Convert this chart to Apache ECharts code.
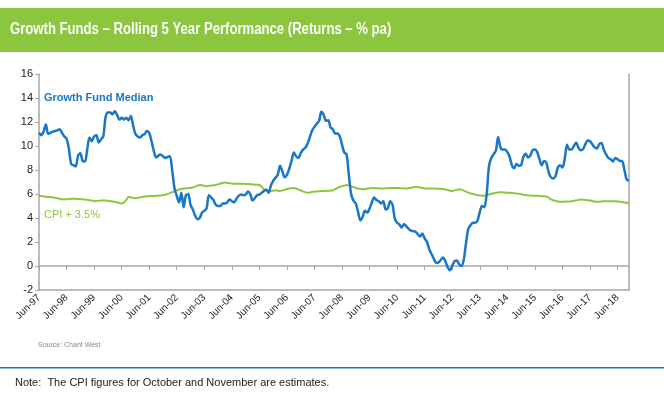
<!DOCTYPE html>
<html><head><meta charset="utf-8">
<script src="https://cdn.jsdelivr.net/npm/echarts@6/dist/echarts.min.js"></script>
<style>html,body{margin:0;padding:0;background:#fff}#c{width:664px;height:393px}</style>
</head><body><div id="c"></div>
<script>
// ---- data ----
const titleText = 'Growth Funds \u2013 Rolling 5 Year Performance (Returns \u2013 % pa)';
const seriesNames = ['Growth Fund Median', 'CPI + 3.5%'];
const startYear = 1997, startMonthIdx = 5, monthCount = 258; // Jun-97 .. Nov-18
const monthNames = ['Jan','Feb','Mar','Apr','May','Jun','Jul','Aug','Sep','Oct','Nov','Dec'];
const yTicks = [-2, 0, 2, 4, 6, 8, 10, 12, 14, 16];

const growthMedian = [
  11.1, 10.9, 11.2, 11.8, 11.0, 11.1, 11.2, 11.25, 11.3, 11.4, 11.1, 10.8,
  10.6, 9.8, 8.5, 8.4, 8.3, 9.2, 9.4, 8.75, 8.7, 9.7, 10.7, 10.4,
  10.8, 10.9, 10.3, 10.55, 10.8, 12.4, 12.8, 12.8, 12.65, 12.9, 12.6, 12.2,
  12.35, 12.2, 12.35, 12.15, 12.5, 11.7, 11.0, 10.8, 10.7, 10.9, 11.0, 11.25,
  11.1, 10.4, 9.6, 9.05, 9.2, 9.3, 9.15, 9.0, 9.1, 9.15, 8.0, 6.5,
  5.85, 5.3, 6.1, 4.9, 5.9, 6.0, 5.1, 4.7, 4.2, 3.9, 4.0, 4.45,
  4.6, 4.8, 5.9, 5.7, 5.5, 5.1, 5.0, 5.0, 5.2, 5.2, 5.3, 5.55,
  5.4, 5.3, 5.6, 5.85, 5.95, 5.9, 5.95, 6.2, 6.0, 5.45, 5.65, 5.9,
  5.95, 6.1, 6.25, 6.35, 6.1, 6.7, 7.1, 7.35, 7.6, 8.35, 7.9, 7.4,
  7.6, 8.1, 8.75, 9.45, 9.15, 9.0, 9.4, 9.7, 9.85, 10.2, 10.75, 11.3,
  11.6, 11.85, 12.1, 12.85, 12.6, 12.1, 12.15, 11.55, 11.4, 11.05, 11.05, 10.8,
  10.1, 9.45, 9.3, 7.5, 5.95, 5.45, 5.2, 4.5, 3.8, 4.1, 4.6, 4.45,
  4.8, 5.3, 5.7, 5.5, 5.4, 5.2, 5.4, 4.7, 4.85, 5.4, 5.1, 3.95,
  3.6, 3.45, 3.2, 3.5, 3.3, 3.1, 2.95, 2.9, 2.85, 2.65, 2.45, 2.7,
  2.3, 2.0, 1.4, 1.0, 0.6, 0.25, 0.3, 0.5, 0.7, 0.4, -0.1, -0.35,
  0.0, 0.4, 0.45, 0.15, 0.0, 0.5, 1.9, 3.1, 3.4, 3.6, 3.6, 3.8,
  4.5, 5.0, 4.9, 6.0, 8.3, 9.0, 9.3, 9.6, 10.75, 9.9, 9.7, 9.7,
  9.5, 9.1, 8.4, 8.15, 8.5, 8.35, 8.4, 9.1, 9.35, 9.05, 9.2, 9.65,
  9.7, 9.5, 8.9, 8.4, 8.75, 8.6, 7.8, 7.4, 7.3, 7.5, 8.2, 8.4,
  8.2, 8.9, 10.1, 9.7, 9.7, 10.0, 10.3, 9.85, 9.65, 9.75, 10.15, 10.45,
  10.4, 10.15, 9.9, 9.8, 10.15, 10.25, 9.7, 9.3, 9.0, 8.9, 8.7, 9.0,
  8.9, 8.75, 8.75, 8.0, 7.2, 7.1
];

const cpiPlus = [
  5.85, 5.83, 5.8, 5.78, 5.76, 5.75, 5.72, 5.68, 5.65, 5.6, 5.55, 5.56,
  5.57, 5.58, 5.6, 5.6, 5.6, 5.58, 5.57, 5.56, 5.55, 5.52, 5.48, 5.45,
  5.4, 5.42, 5.44, 5.45, 5.45, 5.45, 5.43, 5.4, 5.38, 5.35, 5.3, 5.25,
  5.2, 5.3, 5.5, 5.75, 5.72, 5.68, 5.65, 5.68, 5.72, 5.76, 5.8, 5.8,
  5.82, 5.83, 5.84, 5.85, 5.87, 5.88, 5.9, 5.95, 6.0, 6.07, 6.15, 6.22,
  6.3, 6.37, 6.42, 6.45, 6.47, 6.49, 6.5, 6.55, 6.62, 6.7, 6.75, 6.72,
  6.68, 6.65, 6.67, 6.7, 6.72, 6.75, 6.8, 6.87, 6.92, 6.95, 6.92, 6.9,
  6.87, 6.85, 6.85, 6.85, 6.85, 6.85, 6.84, 6.83, 6.82, 6.8, 6.78, 6.77,
  6.75, 6.6, 6.4, 6.32, 6.25, 6.26, 6.28, 6.3, 6.28, 6.25, 6.3, 6.36,
  6.42, 6.45, 6.48, 6.5, 6.45, 6.38, 6.3, 6.22, 6.15, 6.1, 6.13, 6.17,
  6.2, 6.21, 6.22, 6.24, 6.25, 6.26, 6.27, 6.28, 6.3, 6.4, 6.5, 6.6,
  6.65, 6.7, 6.75, 6.7, 6.65, 6.58, 6.5, 6.45, 6.42, 6.4, 6.42, 6.45,
  6.47, 6.5, 6.5, 6.48, 6.47, 6.45, 6.46, 6.47, 6.48, 6.5, 6.5, 6.5,
  6.5, 6.5, 6.48, 6.46, 6.45, 6.48, 6.52, 6.56, 6.6, 6.58, 6.54, 6.5,
  6.46, 6.45, 6.45, 6.45, 6.45, 6.45, 6.44, 6.43, 6.41, 6.38, 6.33, 6.28,
  6.25, 6.3, 6.35, 6.4, 6.35, 6.28, 6.2, 6.12, 6.05, 6.0, 5.95, 5.9,
  5.88, 5.86, 5.85, 5.9, 5.96, 6.02, 6.07, 6.1, 6.13, 6.15, 6.14, 6.12,
  6.1, 6.1, 6.08, 6.06, 6.05, 6.02, 5.98, 5.94, 5.9, 5.89, 5.87, 5.86,
  5.85, 5.85, 5.84, 5.82, 5.81, 5.8, 5.7, 5.55, 5.48, 5.42, 5.38, 5.35,
  5.35, 5.36, 5.37, 5.38, 5.4, 5.43, 5.47, 5.51, 5.55, 5.53, 5.5, 5.47,
  5.45, 5.42, 5.38, 5.35, 5.36, 5.38, 5.4, 5.4, 5.4, 5.4, 5.4, 5.4,
  5.38, 5.36, 5.33, 5.3, 5.27, 5.25
];

// month categories
const categories = [];
for (let i = 0; i < monthCount; i++) {
  const t = startMonthIdx + i;
  const y = startYear + Math.floor(t / 12);
  categories.push(monthNames[t % 12] + '-' + String(y % 100).padStart(2, '0'));
}

const BLUE = '#1877c6', GREEN = '#8cc63f', AXIS = '#a6a6a6';
const chart = echarts.init(document.getElementById('c'), null, {renderer: 'canvas'});
chart.setOption({
  animation: false,
  backgroundColor: '#fff',
  grid: {left: 39, right: 35, top: 74, bottom: 103, containLabel: false},
  xAxis: [{
    type: 'category', data: categories, boundaryGap: false, position: 'bottom',
    axisLine: {onZero: false, lineStyle: {color: AXIS, width: 1.5}},
    axisTick: {show: false},
    axisLabel: {interval: 11, rotate: 45, fontFamily: 'Liberation Sans, Arial, sans-serif', fontSize: 10, color: '#222', margin: 6}
  }, {
    type: 'category', data: categories, boundaryGap: false, position: 'bottom',
    axisLine: {onZero: true, lineStyle: {color: AXIS, width: 1.5}},
    axisTick: {interval: 11, inside: false, length: 4, lineStyle: {color: AXIS}},
    axisLabel: {show: false}
  }],
  yAxis: [{
    type: 'value', min: -2, max: 16, interval: 2,
    axisLine: {show: true, lineStyle: {color: AXIS, width: 1.5}},
    axisTick: {show: true, length: 4, lineStyle: {color: AXIS}},
    splitLine: {show: false},
    axisLabel: {fontFamily: 'Liberation Sans, Arial, sans-serif', fontSize: 11, color: '#222', margin: 6}
  }, {
    type: 'value', min: -2, max: 16, interval: 2, position: 'right',
    axisLine: {show: true, lineStyle: {color: AXIS, width: 1.5}},
    axisTick: {show: false}, axisLabel: {show: false}, splitLine: {show: false}
  }],
  series: [{
    name: seriesNames[1], type: 'line', data: cpiPlus, xAxisIndex: 0, yAxisIndex: 0,
    showSymbol: false, smooth: 0.3, lineStyle: {color: GREEN, width: 2}, z: 3
  }, {
    name: seriesNames[0], type: 'line', data: growthMedian, xAxisIndex: 0, yAxisIndex: 0,
    showSymbol: false, smooth: 0.3, lineStyle: {color: BLUE, width: 2.5}, z: 4
  }],
  graphic: [
    {type: 'rect', left: 0, top: 8, shape: {width: 664, height: 44}, style: {fill: '#8cc63f'}, z: 1},
    {type: 'text', x: 10, y: 22, scaleX: 0.82, style: {text: titleText, fill: '#fff', font: 'bold 16px "Liberation Sans", Arial, sans-serif'}, z: 2},
    {type: 'text', left: 44, top: 92, style: {text: seriesNames[0], fill: BLUE, font: 'bold 11px "Liberation Sans", Arial, sans-serif'}, z: 5},
    {type: 'text', left: 44, top: 209, style: {text: seriesNames[1], fill: GREEN, font: '11px "Liberation Sans", Arial, sans-serif'}, z: 5},
    {type: 'text', left: 38, top: 342, style: {text: 'Source: Chant West', fill: '#888', font: '7px "Liberation Sans", Arial, sans-serif'}, z: 5},
    {type: 'rect', left: 0, top: 367, shape: {width: 664, height: 1.5}, style: {fill: '#1b75bc'}, z: 5},
    {type: 'text', left: 15, top: 377, style: {text: 'Note:  The CPI figures for October and November are estimates.', fill: '#222', font: '11px "Liberation Sans", Arial, sans-serif'}, z: 5}
  ]
});
</script></body></html>
